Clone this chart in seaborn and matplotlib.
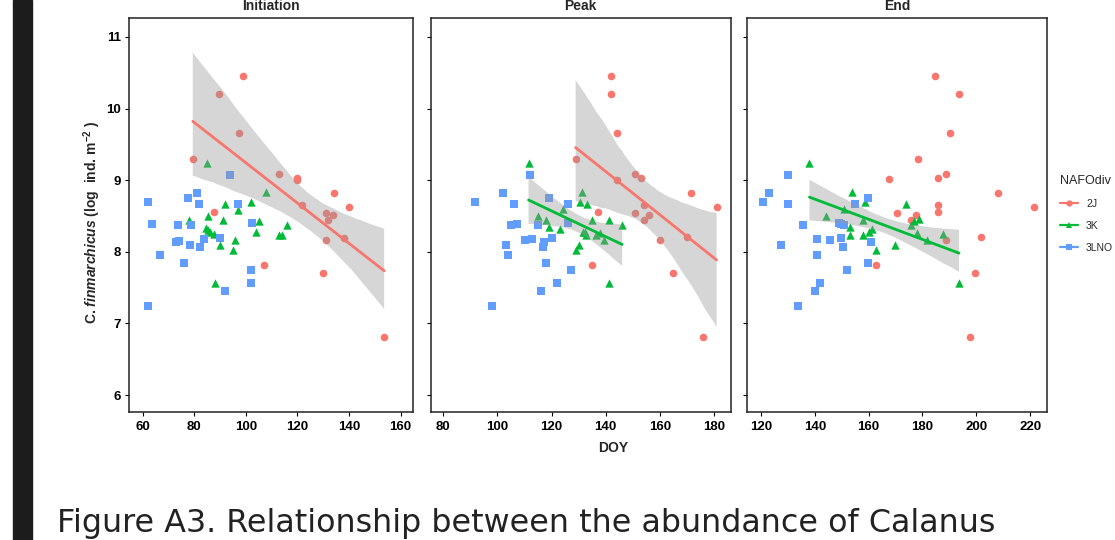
import numpy as np
import pandas as pd
import matplotlib
matplotlib.use("Agg")
import matplotlib.pyplot as plt
import seaborn as sns
from matplotlib.lines import Line2D
from matplotlib.patches import Rectangle

# ---------------- data ----------------
periods = ["Initiation", "Peak", "End"]
divisions = ["2J", "3K", "3LNO"]

init_2j_doy = [79.4, 87.6, 89.7, 97.3, 98.8, 106.9, 112.8, 119.8, 119.8, 121.9,
               129.8, 130.9, 130.9, 131.8, 133.8, 134.3, 138.0, 139.8, 153.6]
init_2j_abund = [9.30, 8.56, 10.20, 9.66, 10.46, 7.82, 9.08, 9.03, 9.00, 8.65,
                 7.70, 8.54, 8.17, 8.45, 8.51, 8.82, 8.20, 8.62, 6.81]
init_3k_doy = [77.8, 84.7, 84.9, 85.2, 85.3, 86.0, 87.8, 87.9, 89.8, 91.0, 91.9,
               94.9, 95.9, 96.8, 101.9, 103.8, 105.1, 107.9, 112.8, 113.9, 115.9]
init_3k_abund = [8.44, 8.33, 9.24, 8.30, 8.50, 8.27, 8.25, 7.57, 8.09, 8.45, 8.67,
                 8.02, 8.16, 8.59, 8.69, 8.28, 8.43, 8.84, 8.24, 8.24, 8.38]
init_3lno_doy = [61.9, 61.9, 63.7, 66.8, 72.9, 74.1, 73.8, 75.9, 77.7, 78.3, 78.8,
                 80.9, 81.8, 82.3, 83.9, 89.8, 91.8, 93.8, 96.8, 101.9, 101.9, 102.4]
init_3lno_abund = [8.70, 7.24, 8.39, 7.95, 8.14, 8.15, 8.37, 7.85, 8.75, 8.09, 8.37,
                   8.82, 8.67, 8.07, 8.18, 8.20, 7.46, 9.07, 8.67, 7.75, 7.56, 8.40]

peak_2j_doy = [128.9, 134.9, 137.1, 142.1, 142.1, 144.1, 144.1, 150.9, 150.9, 153.0,
               154.0, 154.0, 156.0, 160.1, 165.0, 170.1, 171.6, 175.9, 181.0]
peak_2j_abund = [9.30, 7.82, 8.56, 10.46, 10.20, 9.66, 9.00, 9.08, 8.54, 9.03,
                 8.66, 8.45, 8.51, 8.17, 7.70, 8.21, 8.82, 6.81, 8.62]
peak_3k_doy = [111.5, 115.0, 118.0, 119.2, 123.2, 124.1, 129.1, 130.1, 130.6, 131.3, 131.7,
               132.3, 132.8, 133.2, 135.0, 136.3, 138.0, 139.3, 141.2, 141.2, 146.1]
peak_3k_abund = [9.24, 8.50, 8.45, 8.34, 8.32, 8.60, 8.03, 8.09, 8.69, 8.84, 8.27,
                 8.28, 8.24, 8.67, 8.45, 8.24, 8.26, 8.16, 8.44, 7.57, 8.38]
peak_3lno_doy = [91.6, 98.0, 102.1, 103.0, 104.0, 105.0, 106.1, 107.1, 110.1, 112.0, 112.7,
                 115.0, 116.1, 116.7, 117.2, 118.0, 119.0, 120.0, 122.0, 126.1, 126.1, 127.1]
peak_3lno_abund = [8.70, 7.24, 8.82, 8.09, 7.95, 8.37, 8.67, 8.39, 8.16, 9.07, 8.18,
                   8.37, 7.46, 8.07, 8.14, 7.85, 8.75, 8.20, 7.56, 8.67, 8.40, 7.75]

end_2j_doy = [162.6, 167.6, 170.6, 175.7, 177.6, 178.3, 184.6, 185.7, 185.7, 185.7,
              188.7, 188.7, 190.1, 193.6, 197.6, 199.6, 201.7, 208.0, 221.4]
end_2j_abund = [7.82, 9.01, 8.54, 8.45, 8.51, 9.30, 10.46, 9.03, 8.65, 8.56,
                9.08, 8.17, 9.66, 10.20, 6.81, 7.70, 8.21, 8.82, 8.62]
end_3k_doy = [138.0, 144.3, 150.9, 153.0, 153.0, 153.8, 157.8, 157.8, 158.8, 160.0, 161.4,
              162.8, 169.8, 173.8, 175.8, 176.8, 177.9, 178.7, 181.8, 187.7, 193.6]
end_3k_abund = [9.24, 8.50, 8.60, 8.34, 8.24, 8.84, 8.44, 8.24, 8.69, 8.28, 8.32,
                8.03, 8.09, 8.67, 8.38, 8.43, 8.26, 8.46, 8.16, 8.25, 7.57]
end_3lno_doy = [120.9, 123.0, 127.4, 129.9, 129.9, 133.8, 135.7, 140.0, 140.8, 140.8, 141.8,
                145.8, 149.1, 149.6, 149.9, 150.4, 150.7, 151.9, 154.8, 159.7, 159.7, 160.8]
end_3lno_abund = [8.70, 8.82, 8.09, 9.07, 8.67, 7.24, 8.37, 7.46, 8.18, 7.95, 7.56,
                  8.16, 8.40, 8.39, 8.20, 8.07, 8.37, 7.75, 8.67, 8.75, 7.85, 8.14]

# which regressions are drawn in each panel
fitted = {"Initiation": ["2J"], "Peak": ["2J", "3K"], "End": ["3K"]}

x_ticks = {"Initiation": [60, 80, 100, 120, 140, 160],
           "Peak": [80, 100, 120, 140, 160, 180],
           "End": [120, 140, 160, 180, 200, 220]}
y_ticks = [6, 7, 8, 9, 10, 11]

# ---------------- long table ----------------
raw = {
    ("Initiation", "2J"): (init_2j_doy, init_2j_abund),
    ("Initiation", "3K"): (init_3k_doy, init_3k_abund),
    ("Initiation", "3LNO"): (init_3lno_doy, init_3lno_abund),
    ("Peak", "2J"): (peak_2j_doy, peak_2j_abund),
    ("Peak", "3K"): (peak_3k_doy, peak_3k_abund),
    ("Peak", "3LNO"): (peak_3lno_doy, peak_3lno_abund),
    ("End", "2J"): (end_2j_doy, end_2j_abund),
    ("End", "3K"): (end_3k_doy, end_3k_abund),
    ("End", "3LNO"): (end_3lno_doy, end_3lno_abund),
}
rows = []
for (per, div), (xs, ys) in raw.items():
    for xv, yv in zip(xs, ys):
        rows.append({"period": per, "NAFOdiv": div, "DOY": xv, "abund": yv})
df = pd.DataFrame(rows)

# ---------------- style ----------------
sns.set_style("white")
plt.rcParams["font.family"] = ["Liberation Sans", "DejaVu Sans"]
plt.rcParams["mathtext.fontset"] = "custom"
plt.rcParams["mathtext.rm"] = "Liberation Sans:bold"
plt.rcParams["mathtext.it"] = "Liberation Sans:italic:bold"
plt.rcParams["mathtext.bf"] = "Liberation Sans:bold"
try:
    plt.rcParams["mathtext.bfit"] = "Liberation Sans:italic:bold"
    bfit = True
except KeyError:
    bfit = False

palette = {"2J": "#F8766D", "3K": "#00BA38", "3LNO": "#619CFF"}
markers = {"2J": "o", "3K": "^", "3LNO": "s"}
sizes = {"2J": 30, "3K": 36, "3LNO": 32}

W, H = 1115, 540
fig = plt.figure(figsize=(W / 100, H / 100), dpi=100)

# dark bar on the left edge of the page
fig.add_artist(Rectangle((13 / W, 0), 19 / W, 1, transform=fig.transFigure,
                         color="#1c1c1c", zorder=0))

panel_px = {"Initiation": (129.3, 413.3), "Peak": (430.7, 730.7), "End": (747.3, 1047.3)}
xlims = {"Initiation": (54.8, 164.9), "Peak": (75.35, 186.2), "End": (114.9, 226.4)}
top_px, bot_px = 18.3, 412.3
ylim = (5.76, 11.26)

for i, per in enumerate(periods):
    l, r = panel_px[per]
    ax = fig.add_axes([l / W, 1 - bot_px / H, (r - l) / W, (bot_px - top_px) / H])
    sub = df[df["period"] == per]
    for div in divisions:
        d = sub[sub["NAFOdiv"] == div]
        sns.scatterplot(data=d, x="DOY", y="abund", color=palette[div],
                        marker=markers[div], s=sizes[div], linewidth=0,
                        legend=False, ax=ax, zorder=1)
    for div in fitted[per]:
        d = sub[sub["NAFOdiv"] == div]
        n0 = len(ax.collections)
        sns.regplot(data=d, x="DOY", y="abund", scatter=False, ci=95,
                    n_boot=2000, seed=3, truncate=True, color=palette[div],
                    line_kws={"lw": 2.0, "zorder": 3}, ax=ax)
        for c in ax.collections[n0:]:
            c.set_facecolor("#999999")
            c.set_alpha(0.4)
            c.set_edgecolor("none")
            c.set_zorder(2)
    ax.set_xlim(*xlims[per])
    ax.set_ylim(*ylim)
    ax.set_xticks(x_ticks[per])
    ax.set_yticks(y_ticks)
    ax.set_xlabel("")
    ax.set_ylabel("")
    ax.tick_params(axis="both", which="major", direction="out", length=3,
                   width=0.8, color="black", labelsize=9.5, pad=3,
                   bottom=True, left=True)
    for lab in ax.get_xticklabels() + ax.get_yticklabels():
        lab.set_fontweight("bold")
        lab.set_color("black")
    if i > 0:
        ax.set_yticklabels([])
    for sp in ax.spines.values():
        sp.set_visible(True)
        sp.set_color("#222222")
        sp.set_linewidth(1.1)
    fig.text((l + r) / 2 / W, 1 - 9.5 / H, per, ha="center", va="baseline",
             fontsize=10, fontweight="bold")

# axis labels
fig.text(613.5 / W, 1 - 448 / H, "DOY", ha="center", va="center",
         fontsize=10, fontweight="bold")
if bfit:
    ylab = r"C. $\mathbfit{finmarchicus}$ (log  ind. m$^{\mathbf{-2}}$ )"
else:
    ylab = r"C. $\mathit{finmarchicus}$ (log  ind. m$^{\mathbf{-2}}$ )"
fig.text(92 / W, 1 - 222 / H, ylab, rotation=90, ha="center", va="center",
         fontsize=10, fontweight="bold")

# legend
handles = [Line2D([], [], color=palette[d], marker=markers[d], lw=1.6,
                  markersize=4.5, markeredgewidth=0) for d in divisions]
leg = fig.legend(handles, divisions, title="NAFOdiv", loc="upper left",
                 bbox_to_anchor=(1060 / W, 1 - 175 / H), frameon=False,
                 fontsize=7.5, title_fontsize=9, borderpad=0, borderaxespad=0,
                 handlelength=1.75, handletextpad=0.75, labelspacing=1.15,
                 alignment="left")

# caption
fig.text(57 / W, 1 - 532 / H, "Figure A3. Relationship between the abundance of Calanus",
         ha="left", va="baseline", fontsize=22.9, family="DejaVu Sans", color="#222222")

fig.savefig("out.png", dpi=100)
